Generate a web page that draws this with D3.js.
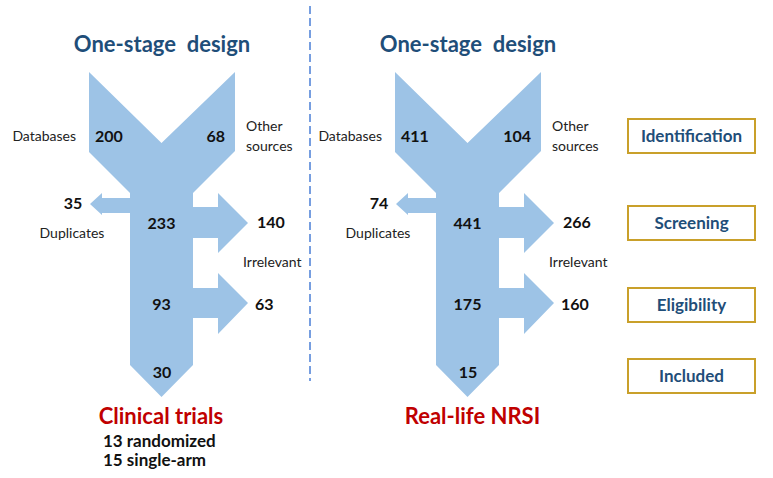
<!DOCTYPE html>
<html>
<head>
<meta charset="utf-8">
<script src="https://cdn.jsdelivr.net/npm/d3@7"></script>
<style>
  html, body { margin: 0; padding: 0; background: #fff; }
  svg { display: block; }
  text { font-family: Lato, "Open Sans", sans-serif; }
</style>
</head>
<body>
<svg id="chart" width="773" height="478"></svg>
<script>
// ---- data ----
const panels = ["Clinical trials", "Real-life NRSI"];
const titles = ["One-stage  design", "One-stage  design"];
const databases = [200, 411];
const otherSources = [68, 104];
const duplicates = [35, 74];
const screened = [233, 441];
const irrelevantScreening = [140, 266];
const eligible = [93, 175];
const irrelevantEligibility = [63, 160];
const included = [30, 15];
const subNotes = [["13 randomized", "15 single-arm"], []];
const stages = ["Identification", "Screening", "Eligibility", "Included"];

// ---- layout ----
const svg = d3.select("#chart");
const panelX = d3.scalePoint().domain(panels).range([0, 306]);   // panel offset
const stageY = d3.scaleOrdinal().domain(stages).range([119, 206, 288, 359]);

const blue = "#9dc3e6", titleBlue = "#1f4e79", red = "#c00000", gold = "#c9a02a";

// shape outline in panel-local coordinates (left panel frame)
function shapePath() {
  const p = d3.path();
  p.moveTo(89, 72);
  p.lineTo(161.5, 143);
  p.lineTo(235, 72);
  p.lineTo(235, 151);
  p.lineTo(193, 193);
  p.lineTo(193, 207);
  p.lineTo(218, 207);
  p.lineTo(218, 193);
  p.lineTo(248, 223);
  p.lineTo(218, 253);
  p.lineTo(218, 238);
  p.lineTo(193, 238);
  p.lineTo(193, 288);
  p.lineTo(218, 288);
  p.lineTo(218, 273);
  p.lineTo(248, 303);
  p.lineTo(218, 334);
  p.lineTo(218, 318);
  p.lineTo(193, 318);
  p.lineTo(193, 365);
  p.lineTo(161.5, 397);
  p.lineTo(130, 365);
  p.lineTo(130, 213);
  p.lineTo(102, 213);
  p.lineTo(102, 215);
  p.lineTo(90, 204);
  p.lineTo(102, 193);
  p.lineTo(102, 198);
  p.lineTo(130, 198);
  p.lineTo(130, 193);
  p.lineTo(89, 152);
  p.closePath();
  return p.toString();
}

// dashed separator
svg.append("line")
  .attr("x1", 310).attr("x2", 310).attr("y1", 6).attr("y2", 381)
  .attr("stroke", "#4a7fd6").attr("stroke-width", 1.5)
  .attr("stroke-dasharray", "8,4");

panels.forEach((name, i) => {
  const g = svg.append("g").attr("transform", `translate(${panelX(name)},0)`);
  g.append("path").attr("d", shapePath()).attr("fill", blue);

  g.append("text").attr("x", 162).attr("y", 52).attr("text-anchor", "middle")
    .style("white-space", "pre")
    .attr("font-size", 22).attr("font-weight", 700).attr("fill", titleBlue)
    .text(titles[i]);

  const num = (x, y, v, anchor) => g.append("text").attr("x", x).attr("y", y)
    .attr("text-anchor", anchor || "middle").attr("font-size", 16).attr("font-weight", 700)
    .attr("fill", "#111").text(v);
  const lab = (x, y, t, anchor) => g.append("text").attr("x", x).attr("y", y)
    .attr("text-anchor", anchor || "start").attr("font-size", 14).attr("fill", "#222").text(t);

  num(95, 142, databases[i], "start");
  num(225, 142, otherSources[i], "end");
  lab(76, 141, "Databases", "end");
  lab(246, 131, "Other");
  lab(246, 151, "sources");
  num(73, 209, duplicates[i]);
  lab(72, 238, "Duplicates", "middle");
  num(161.5, 229, screened[i]);
  num(257, 228, irrelevantScreening[i], "start");
  lab(243, 267, "Irrelevant");
  num(161.5, 310, eligible[i]);
  num(255, 310, irrelevantEligibility[i], "start");
  num(162, 378, included[i]);

  g.append("text").attr("x", i === 0 ? 161 : 166.5).attr("y", 424).attr("text-anchor", "middle")
    .attr("font-size", 22).attr("font-weight", 700).attr("fill", red).text(name);
  subNotes[i].forEach((t, j) => {
    g.append("text").attr("x", 103).attr("y", 447 + j * 19)
      .attr("font-size", 17).attr("font-weight", 700).attr("fill", "#111").text(t);
  });
});

// stage boxes
const boxes = svg.append("g");
stages.forEach(s => {
  const y0 = stageY(s);
  boxes.append("rect").attr("x", 628).attr("y", y0).attr("width", 127).attr("height", 34)
    .attr("fill", "#fff").attr("stroke", gold).attr("stroke-width", 2);
  boxes.append("text").attr("x", 691.5).attr("y", y0 + 23).attr("text-anchor", "middle")
    .attr("font-size", 17).attr("font-weight", 700).attr("fill", titleBlue).text(s);
});
</script>
</body>
</html>
